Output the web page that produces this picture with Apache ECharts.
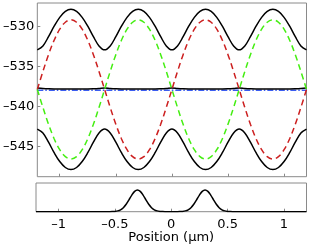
<!DOCTYPE html>
<html><head><meta charset="utf-8">
<script src="https://cdn.jsdelivr.net/npm/echarts@6/dist/echarts.min.js"></script>
<style>html,body{margin:0;padding:0;background:#fff}#c{width:311px;height:251px}</style>
</head><body><div id="c"></div>
<script>
// Top panel: positions (µm), step 0.05 from -1.2 to 1.2
const xTop = [];
for (let i = 0; i <= 48; i++) xTop.push(+(-1.2 + 0.05 * i).toFixed(3));

const redDashed = [
  -537.85,-535.60,-533.50,-531.70,-530.32,-529.45,-529.15,-529.45,-530.32,-531.70,-533.50,-535.60,
  -537.85,-540.10,-542.20,-544.00,-545.38,-546.25,-546.55,-546.25,-545.38,-544.00,-542.20,-540.10,
  -537.85,-535.60,-533.50,-531.70,-530.32,-529.45,-529.15,-529.45,-530.32,-531.70,-533.50,-535.60,
  -537.85,-540.10,-542.20,-544.00,-545.38,-546.25,-546.55,-546.25,-545.38,-544.00,-542.20,-540.10,
  -537.85];
const greenDashed = [
  -537.85,-540.10,-542.20,-544.00,-545.38,-546.25,-546.55,-546.25,-545.38,-544.00,-542.20,-540.10,
  -537.85,-535.60,-533.50,-531.70,-530.32,-529.45,-529.15,-529.45,-530.32,-531.70,-533.50,-535.60,
  -537.85,-540.10,-542.20,-544.00,-545.38,-546.25,-546.55,-546.25,-545.38,-544.00,-542.20,-540.10,
  -537.85,-535.60,-533.50,-531.70,-530.32,-529.45,-529.15,-529.45,-530.32,-531.70,-533.50,-535.60,
  -537.85];
const blackTop = [
  -532.90,-532.41,-531.26,-529.95,-528.84,-528.10,-527.84,-528.10,-528.84,-529.95,-531.26,-532.41,
  -532.90,-532.41,-531.26,-529.95,-528.84,-528.10,-527.84,-528.10,-528.84,-529.95,-531.26,-532.41,
  -532.90,-532.41,-531.26,-529.95,-528.84,-528.10,-527.84,-528.10,-528.84,-529.95,-531.26,-532.41,
  -532.90,-532.41,-531.26,-529.95,-528.84,-528.10,-527.84,-528.10,-528.84,-529.95,-531.26,-532.41,
  -532.90];
const blackMiddle = [
  -537.66,-537.72,-537.76,-537.78,-537.78,-537.78,-537.78,-537.78,-537.78,-537.78,-537.76,-537.72,
  -537.66,-537.72,-537.76,-537.78,-537.78,-537.78,-537.78,-537.78,-537.78,-537.78,-537.76,-537.72,
  -537.66,-537.72,-537.76,-537.78,-537.78,-537.78,-537.78,-537.78,-537.78,-537.78,-537.76,-537.72,
  -537.66,-537.72,-537.76,-537.78,-537.78,-537.78,-537.78,-537.78,-537.78,-537.78,-537.76,-537.72,
  -537.66];
const blackBottom = [
  -542.80,-543.29,-544.44,-545.75,-546.86,-547.60,-547.86,-547.60,-546.86,-545.75,-544.44,-543.29,
  -542.80,-543.29,-544.44,-545.75,-546.86,-547.60,-547.86,-547.60,-546.86,-545.75,-544.44,-543.29,
  -542.80,-543.29,-544.44,-545.75,-546.86,-547.60,-547.86,-547.60,-546.86,-545.75,-544.44,-543.29,
  -542.80,-543.29,-544.44,-545.75,-546.86,-547.60,-547.86,-547.60,-546.86,-545.75,-544.44,-543.29,
  -542.80];
const blueDashDot = new Array(49).fill(-537.95);

// Bottom panel
const xBottom = [-1.2,-0.6,-0.575,-0.55,-0.525,-0.5,-0.475,-0.45,-0.425,-0.4,-0.375,-0.35,-0.325,-0.3,
  -0.275,-0.25,-0.225,-0.2,-0.175,-0.15,-0.125,-0.1,-0.075,-0.05,-0.025,0,
  0.025,0.05,0.075,0.1,0.125,0.15,0.175,0.2,0.225,0.25,0.275,0.3,
  0.325,0.35,0.375,0.4,0.425,0.45,0.475,0.5,0.525,0.55,0.575,0.6,1.2];
const density = [0,0,0,0.001,0.003,0.010,0.028,0.067,0.140,0.258,0.414,0.580,0.710,0.760,
  0.710,0.580,0.414,0.258,0.140,0.067,0.028,0.010,0.003,0.001,0,0,
  0,0.001,0.003,0.010,0.028,0.067,0.140,0.258,0.414,0.580,0.710,0.760,
  0.710,0.580,0.414,0.258,0.140,0.067,0.028,0.010,0.003,0.001,0,0,0];

const xTicks = [-1, -0.5, 0, 0.5, 1];
const yTicks = [-545, -540, -535, -530];

const pair = (xs, ys) => xs.map((x, i) => [x, ys[i]]);
const FONT = 'DejaVu Sans';
const frame = '#8a8a8a';

const chart = echarts.init(document.getElementById('c'), null, {renderer: 'canvas'});
const mk = (data, color, width, type, z) => ({
  type: 'line', data, smooth: 0.35, symbol: 'none', z: z,
  lineStyle: {color, width, type}, xAxisIndex: 0, yAxisIndex: 0, animation: false
});
const noLine = {show: false, onZero: false};
chart.setOption({
  animation: false,
  grid: [
    {left: 36, top: 3, width: 270.5, height: 173.7, show: true, borderColor: frame, borderWidth: 1},
    {left: 36, top: 183, width: 270.5, height: 28.7, show: true, borderColor: frame, borderWidth: 1}
  ],
  xAxis: [
    {type: 'value', gridIndex: 0, min: -1.2, max: 1.2, splitLine: {show: false}, position: 'bottom',
     axisLine: noLine,
     axisTick: {show: true, inside: true, length: 3, customValues: xTicks, lineStyle: {color: frame}},
     axisLabel: {show: false}},
    {type: 'value', gridIndex: 1, min: -1.2, max: 1.2, splitLine: {show: false}, position: 'bottom',
     axisLine: noLine,
     axisTick: {show: true, inside: true, length: 3, customValues: xTicks, lineStyle: {color: frame}},
     axisLabel: {show: true, customValues: xTicks, fontFamily: FONT, fontSize: 13, color: '#000', margin: 6,
       formatter: v => String(v).replace('-', '\u2013')},
     name: 'Position (\u00b5m)', nameLocation: 'middle', nameGap: 19,
     nameTextStyle: {fontFamily: FONT, fontSize: 13, color: '#000'}}
  ],
  yAxis: [
    {type: 'value', gridIndex: 0, min: -548.75, max: -527.05, splitLine: {show: false}, position: 'left',
     axisLine: noLine,
     axisTick: {show: true, inside: true, length: 3, customValues: yTicks, lineStyle: {color: frame}},
     axisLabel: {show: true, customValues: yTicks, fontFamily: FONT, fontSize: 13, color: '#000', margin: 3,
       formatter: v => String(v).replace('-', '\u2013')}},
    {type: 'value', gridIndex: 1, min: 0, max: 1, splitLine: {show: false}, position: 'left',
     axisLine: noLine, axisTick: {show: false}, axisLabel: {show: false}}
  ],
  series: [
    mk(pair(xTop, blueDashDot), '#3a5cf0', 1.5, [6, 2, 1.5, 2], 2),
    mk(pair(xTop, blackTop), '#000', 1.5, 'solid', 3),
    mk(pair(xTop, blackMiddle), '#000', 1.5, 'solid', 3),
    mk(pair(xTop, blackBottom), '#000', 1.5, 'solid', 3),
    mk(pair(xTop, redDashed), '#cc1f1f', 1.5, [6, 4], 4),
    mk(pair(xTop, greenDashed), '#44ee11', 1.5, [6, 4], 4),
    {type: 'line', xAxisIndex: 1, yAxisIndex: 1, data: pair(xBottom, density), smooth: 0.3,
     symbol: 'none', lineStyle: {color: '#000', width: 1.5}, animation: false}
  ]
});
</script></body></html>
